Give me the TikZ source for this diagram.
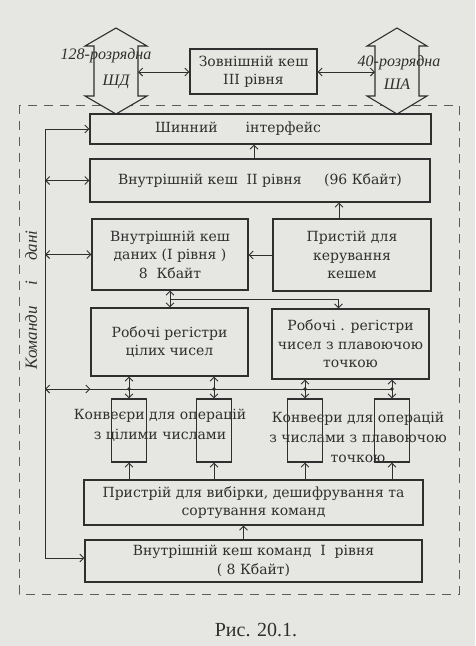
\documentclass[tikz,border=0pt]{standalone}
\usepackage{fontspec}
\setmainfont{Liberation Serif}
\newfontfamily\boxfont{DejaVu Serif}
\usetikzlibrary{arrows.meta}
\definecolor{ScanPaper}{HTML}{E6E6E2}
\definecolor{ScanInk}{HTML}{2F2F2F}
\definecolor{ScanFrame}{HTML}{5C5C5C}

\begin{document}
\begin{tikzpicture}[x=1pt,y=-1pt,
    block/.style={draw=ScanInk,line width=1.1pt,text=ScanInk,align=center,inner sep=0pt,
      font=\boxfont\fontsize{14}{18.5}\selectfont},
    pipe/.style={draw=ScanInk,line width=1.1pt,inner sep=0pt,minimum width=35pt,minimum height=63pt},
    link/.style={draw=ScanInk,line width=0.9pt},
    oneway/.style={-{Straight Barb[length=4pt,width=8pt]}},
    twoway/.style={{Straight Barb[length=4pt,width=8pt]}-{Straight Barb[length=4pt,width=8pt]}},
    note/.style={text=ScanInk,font=\fontsize{16}{18}\selectfont\itshape},
    plain/.style={text=ScanInk,align=center,font=\boxfont\fontsize{14}{20}\selectfont}]
      \fill[ScanPaper] (0,0) rectangle (475,646);
      \useasboundingbox (0,0) rectangle (475,646);

      % processor border
      \draw[ScanFrame,line width=0.9pt,dash pattern=on 9pt off 7pt] (19,105) rectangle (459,594);

      % wide buses
      \filldraw[fill=ScanPaper,draw=ScanInk,line width=1.1pt] (116,28) -- (147,46) -- (138,46) -- (138,96)
        -- (147,96) -- (116,114) -- (85,96) -- (94,96) -- (94,46) -- (85,46) -- cycle;
      \filldraw[fill=ScanPaper,draw=ScanInk,line width=1.1pt] (397,28) -- (427,46) -- (419,46) -- (419,96)
        -- (427,96) -- (397,114) -- (367,96) -- (375,96) -- (375,46) -- (367,46) -- cycle;
      \coordinate (shdR) at (138,72);
      \coordinate (shaL) at (375,72);
      \node[note] (n128) at (106,56) {128-розрядна};
      \node[note] (nShd) at (116,82) {ШД};
      \node[note] (n40) at (399,63) {40-розрядна};
      \node[note] (nSha) at (397,84) {ША};

      \node[block,minimum width=127pt,minimum height=45pt] (ext) at (253.5,71.5) {Зовнішній кеш\\III рівня};
      \node[block,minimum width=341pt,minimum height=30pt] (bus) at (260.5,129) {};
      \node[block,draw=none] (busText) at (238,129) {Шинний\hspace{2em}інтерфейс};
      \node[block,minimum width=340pt,minimum height=43pt] (l2) at (260,180.5) {Внутрішній кеш\ \ II рівня\hspace{1.6em}(96 Кбайт)};
      \node[block,minimum width=156pt,minimum height=71pt] (l1d) at (170,254.5) {Внутрішній кеш\\даних (I рівня )\\8\ \ Кбайт};
      \node[block,minimum width=158pt,minimum height=72pt] (ctrl) at (352,255) {Пристій для\\керування\\кешем};
      \node[block,minimum width=157pt,minimum height=68pt] (ireg) at (169.5,342) {Робочі регістри\\цілих чисел};
      \node[block,minimum width=157pt,minimum height=70pt] (freg) at (350.5,344) {Робочі . регістри\\чисел з плавоючою\\точкою};

      \node[pipe] (c1) at (129,430.5) {};
      \node[pipe] (c2) at (214,430.5) {};
      \node[pipe] (c3) at (305,430.5) {};
      \node[pipe] (c4) at (392,430.5) {};
      \node[plain] (convInt) at (160,425) {Конвеєри для операцій\\з цілими числами};
      \node[plain] (convFlt) at (358,437) {Конвеєри для операцій\\з числами з плавоючою\\точкою};

      \node[block,minimum width=339pt,minimum height=45pt] (fetch) at (253.5,502.5) {Пристрій для вибірки, дешифрування та\\сортування команд};
      \node[block,minimum width=337pt,minimum height=42pt] (l1i) at (253.5,561) {Внутрішній кеш команд\ \ I\ \ рівня\\( 8 Кбайт)};

      % instructions and data line
      \coordinate (flowTop) at (45,129);
      \coordinate (flowEnd) at (45,558);
      \coordinate (dataRow) at (45,389);
      \node[note,font=\fontsize{17}{18}\selectfont\itshape,rotate=90] (flow) at (31,300) {Команди\hspace{1.2em}і\hspace{1.2em}дані};
      \draw[link] (flowTop) -- (flowEnd);
      \draw[link,oneway] (flowTop) -- (bus.west);
      \draw[link,twoway] (l2.west -| flowTop) -- (l2.west);
      \draw[link,twoway] (l1d.west -| flowTop) -- (l1d.west);
      \draw[link,oneway] (flowEnd) -- (flowEnd -| l1i.west);
      \draw[link,twoway] (dataRow) -- (dataRow -| ireg.west);
      \draw[link] (dataRow -| ireg.west) -- (dataRow -| c4.north);

      % connections
      \draw[link,twoway] (shdR) -- (ext.west |- shdR);
      \draw[link,twoway] (ext.east |- shaL) -- (shaL);
      \draw[link,oneway] ([xshift=-6pt]l2.north) -- ([xshift=-6pt]l2.north |- bus.south);
      \draw[link,oneway] ([xshift=-13pt]ctrl.north) -- ([xshift=-13pt]ctrl.north |- l2.south);
      \draw[link,oneway] (ctrl.west) -- (ctrl.west -| l1d.east);
      \draw[link,twoway] (l1d.south) -- (l1d.south |- ireg.north);
      \draw[link,oneway] ([yshift=-9pt]l1d.south) -| ([xshift=-12pt]freg.north);

      \draw[link,twoway] (c1.north |- ireg.south) -- (c1.north);
      \draw[link,twoway] (c2.north |- ireg.south) -- (c2.north);
      \draw[link,twoway] (c3.north |- freg.south) -- (c3.north);
      \draw[link,twoway] (c4.north |- freg.south) -- (c4.north);
      \foreach \pipeName in {c1,c2,c3,c4}
        \fill[ScanInk] (\pipeName.north |- dataRow) circle (1.8);

      \draw[link,oneway] (c1.south |- fetch.north) -- (c1.south);
      \draw[link,oneway] (c2.south |- fetch.north) -- (c2.south);
      \draw[link,oneway] (c3.south |- fetch.north) -- (c3.south);
      \draw[link,oneway] (c4.south |- fetch.north) -- (c4.south);
      \draw[link,oneway] ([xshift=-10pt]l1i.north) -- ([xshift=-10pt]l1i.north |- fetch.south);

      \node[text=ScanInk,font=\fontsize{20}{24}\selectfont] (caption) at (256,630) {Рис. 20.1.};
    \end{tikzpicture}
\end{document}
